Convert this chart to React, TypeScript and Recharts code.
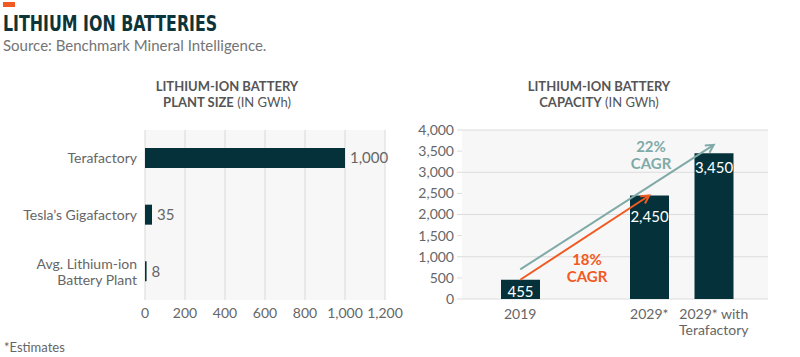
import React from 'react'
import {
    BarChart,
    Bar,
    XAxis,
    YAxis,
    CartesianGrid,
    LabelList,
    ReferenceLine,
} from 'recharts'

const plantNames = ['Terafactory', 'Tesla’s Gigafactory', 'Avg. Lithium-ion\nBattery Plant']
const plantSizes = [1000, 35, 8]
const plantTicks = [0, 200, 400, 600, 800, 1000, 1200]

const capacityYears = ['2019', '', '2029*', '2029* with\nTerafactory']
const capacityValues = [455, null, 2450, 3450]
const capacityTicks = [0, 500, 1000, 1500, 2000, 2500, 3000, 3500, 4000]

const baseCagr = { from: '2019', fromValue: 455, to: '2029*', toValue: 2450, rate: '18%' }
const teraCagr = { from: '2019', fromValue: 700, to: '2029* with\nTerafactory', toValue: 3650, rate: '22%' }

const plantData = plantNames.map((name, i) => ({ name, size: plantSizes[i] }))
const capacityData = capacityYears.map((year, i) => ({ year, total: capacityValues[i] }))

const FONT = 'Lato, "Open Sans", sans-serif'
const DARK = '#05323a'
const GREY = '#666'
const ORANGE = '#f15a22'
const TEAL = '#80aaa7'

const fmt = (v: any) => (v == null ? '' : Number(v).toLocaleString('en-US'))

const LeftTick = ({ x, y, payload }: any) => {
    const lines = String(payload.value).split('\n')
    const start = -((lines.length - 1) * 16) / 2
    return (
        <text x={x} y={y} textAnchor="end" fill={GREY} fontSize={14} fontFamily={FONT}>
            {lines.map((l, i) => (
                <tspan key={i} x={x} dy={i === 0 ? start + 5 : 16}>{l}</tspan>
            ))}
        </text>
    )
}

const BottomTick = ({ x, y, payload }: any) => {
    const lines = String(payload.value).split('\n')
    return (
        <text x={x} y={y} textAnchor="middle" fill={GREY} fontSize={14} fontFamily={FONT}>
            {lines.map((l, i) => (
                <tspan key={i} x={x} dy={i === 0 ? '0.85em' : 16}>{l}</tspan>
            ))}
        </text>
    )
}

// label sits a bit lower in the middle bar, where the arrows cross
const labelDrop = [5, 0, 15, 8]

const InsideLabel = (props: any) => {
    const { x, y, width, value } = props
    if (value == null) return null
    const drop = labelDrop[capacityValues.indexOf(value)] ?? 6
    return (
        <text
            x={x + width / 2}
            y={y + drop}
            dy="0.8em"
            textAnchor="middle"
            fill="#fff"
            fontSize={15}
            fontFamily={FONT}
        >
            {fmt(value)}
        </text>
    )
}

const arrowShape = (color: string) => (props: any) => {
    const { x1, y1, x2, y2 } = props
    const a = Math.atan2(y2 - y1, x2 - x1)
    const h = 9
    const p1 = [x2 - h * Math.cos(a - 0.5), y2 - h * Math.sin(a - 0.5)]
    const p2 = [x2 - h * Math.cos(a + 0.5), y2 - h * Math.sin(a + 0.5)]
    return (
        <g>
            <line x1={x1} y1={y1} x2={x2} y2={y2} stroke={color} strokeWidth={2} />
            <polyline
                points={`${p1[0]},${p1[1]} ${x2},${y2} ${p2[0]},${p2[1]}`}
                fill="none"
                stroke={color}
                strokeWidth={2}
            />
        </g>
    )
}

const titleStyle: React.CSSProperties = {
    position: 'absolute',
    top: 78,
    width: 240,
    textAlign: 'center',
    fontFamily: FONT,
    fontSize: 13,
    lineHeight: '16px',
    color: '#555',
}

const cagrStyle = (color: string, cx: number, top: number): React.CSSProperties => ({
    position: 'absolute',
    left: cx - 40,
    top,
    width: 80,
    textAlign: 'center',
    fontFamily: FONT,
    fontWeight: 700,
    fontSize: 15,
    lineHeight: '17px',
    color,
})

export default function App() {
    return (
        <div style={{ position: 'absolute', top: 0, left: 0, width: 800, height: 357, background: '#fff', overflow: 'hidden' }}>
            <div style={{ position: 'absolute', left: 3, top: 2, width: 12, height: 5, background: ORANGE }} />
            <div
                style={{
                    position: 'absolute',
                    left: 3,
                    top: 10,
                    fontFamily: '"DejaVu Sans Condensed", "Liberation Sans", sans-serif',
                    fontWeight: 700,
                    fontSize: 22,
                    color: '#0d3438',
                    lineHeight: '28px',
                    whiteSpace: 'nowrap',
                    transform: 'scaleX(0.8)',
                    transformOrigin: 'left top',
                }}
            >
                LITHIUM ION BATTERIES
            </div>
            <div style={{ position: 'absolute', left: 3, top: 36, fontFamily: FONT, fontSize: 15, color: '#747474' }}>
                Source: Benchmark Mineral Intelligence.
            </div>

            <div style={{ ...titleStyle, left: 107 }}>
                <b>LITHIUM-ION BATTERY</b>
                <br />
                <b>PLANT SIZE</b> (IN GWh)
            </div>
            <div style={{ ...titleStyle, left: 479 }}>
                <b>LITHIUM-ION BATTERY</b>
                <br />
                <b>CAPACITY</b> (IN GWh)
            </div>

            <div style={{ position: 'absolute', left: 0, top: 0 }}>
                <BarChart
                    width={410}
                    height={357}
                    data={plantData}
                    layout="vertical"
                    margin={{ top: 130, right: 25, bottom: 27, left: 0 }}
                >
                    <CartesianGrid horizontal={false} stroke="#d9d9d9" fill="#f7f7f7" />
                    <XAxis
                        type="number"
                        domain={[0, 1200]}
                        ticks={plantTicks}
                        tickFormatter={fmt}
                        axisLine={false}
                        tickLine={false}
                        height={30}
                        interval={0}
                        tick={{ fill: GREY, fontSize: 14, fontFamily: FONT }}
                    />
                    <YAxis
                        type="category"
                        dataKey="name"
                        width={145}
                        axisLine={false}
                        tickLine={false}
                        tick={<LeftTick />}
                        interval={0}
                    />
                    <Bar dataKey="size" fill={DARK} barSize={20} isAnimationActive={false}>
                        <LabelList
                            dataKey="size"
                            position="right"
                            offset={5}
                            formatter={fmt}
                            fill={GREY}
                            fontSize={15}
                            fontFamily={FONT}
                        />
                    </Bar>
                </BarChart>
            </div>

            <div style={{ position: 'absolute', left: 400, top: 0 }}>
                <BarChart
                    width={400}
                    height={357}
                    data={capacityData}
                    margin={{ top: 130, right: 32, bottom: 18, left: 0 }}
                >
                    <CartesianGrid vertical={false} stroke="#dcdcdc" fill="#f7f7f7" />
                    <XAxis
                        dataKey="year"
                        axisLine={false}
                        tickLine={false}
                        height={40}
                        padding={{ left: 26, right: 22 }}
                        interval={0}
                        tick={<BottomTick />}
                    />
                    <YAxis
                        domain={[0, 4000]}
                        ticks={capacityTicks}
                        tickFormatter={fmt}
                        width={62}
                        axisLine={false}
                        tickSize={5}
                        tickMargin={3}
                        tickLine={{ stroke: '#dcdcdc' }}
                        tick={{ fill: GREY, fontSize: 14, fontFamily: FONT }}
                    />
                    <Bar dataKey="total" fill={DARK} barSize={39} isAnimationActive={false}>
                        <LabelList dataKey="total" content={<InsideLabel />} />
                    </Bar>
                    <ReferenceLine
                        segment={[
                            { x: teraCagr.from, y: teraCagr.fromValue },
                            { x: teraCagr.to, y: teraCagr.toValue },
                        ]}
                        ifOverflow="visible"
                        shape={arrowShape(TEAL)}
                    />
                    <ReferenceLine
                        segment={[
                            { x: baseCagr.from, y: baseCagr.fromValue },
                            { x: baseCagr.to, y: baseCagr.toValue },
                        ]}
                        ifOverflow="visible"
                        shape={arrowShape(ORANGE)}
                    />
                </BarChart>
            </div>

            <div style={cagrStyle(TEAL, 651, 138)}>
                {teraCagr.rate}
                <br />
                CAGR
            </div>
            <div style={cagrStyle(ORANGE, 587, 251)}>
                {baseCagr.rate}
                <br />
                CAGR
            </div>

            <div style={{ position: 'absolute', left: 4, top: 339, fontFamily: FONT, fontSize: 13, color: GREY }}>
                *Estimates
            </div>
        </div>
    )
}
